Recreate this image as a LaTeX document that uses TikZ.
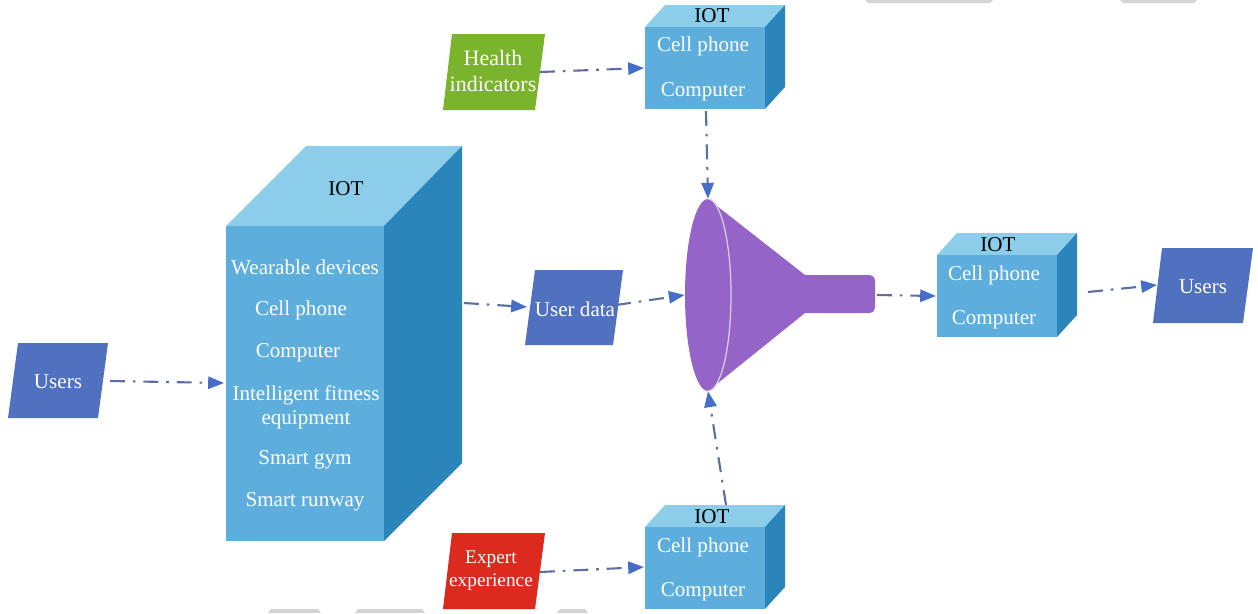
\documentclass[tikz,border=0pt]{standalone}
\usepackage{fontspec}
\setmainfont{Liberation Serif}
\usetikzlibrary{arrows.meta,shapes.geometric}

\definecolor{cubefront}{RGB}{94,174,221}
\definecolor{cubetop}{RGB}{140,206,234}
\definecolor{cubeside}{RGB}{42,134,186}
\definecolor{userblue}{RGB}{80,112,192}
\definecolor{healthgreen}{RGB}{122,180,44}
\definecolor{expertred}{RGB}{220,42,30}
\definecolor{funnelpurple}{RGB}{148,100,200}
\definecolor{funnelrim}{RGB}{222,205,245}
\definecolor{linkgray}{RGB}{95,110,160}
\definecolor{headblue}{RGB}{70,110,200}
\definecolor{scrapgray}{RGB}{212,212,212}

\tikzset{
  lbl/.style={text=white, font=\fontsize{12}{14}\selectfont, inner sep=0pt},
  toplbl/.style={text=black, font=\fontsize{12}{14}\selectfont, inner sep=0pt},
  link/.style={draw=linkgray, line width=1.2pt,
    dash pattern=on 8.5pt off 4.5pt on 1.5pt off 4.5pt,
    -{Triangle[length=9pt,width=7pt,color=headblue]}},
  % small IOT cube: front face 120x82 with its top-left corner at the pic origin
  iotcube/.pic={
    \fill[cubetop] (0,0) -- (20,-22) -- (140,-22) -- (120,0) -- cycle;
    \fill[cubeside] (120,0) -- (140,-22) -- (140,60) -- (120,82) -- cycle;
    \fill[cubefront] (0,0) rectangle (120,82);
  }
}

\begin{document}
\begin{tikzpicture}[x=0.02cm,y=-0.02cm]
  \fill[white] (0,0) rectangle (1258,613);
  \useasboundingbox (0,0) rectangle (1258,613);

  % faint grey fragments along the edges
  \fill[scrapgray] (865,0) -- (993,0) -- (990,3) -- (868,3) -- cycle;
  \fill[scrapgray] (1120,0) -- (1197,0) -- (1194,3) -- (1123,3) -- cycle;
  \fill[scrapgray] (268,613) -- (271,609) -- (318,609) -- (321,613) -- cycle;
  \fill[scrapgray] (355,613) -- (358,609) -- (422,609) -- (425,613) -- cycle;
  \fill[scrapgray] (557,613) -- (560,609) -- (585,609) -- (588,613) -- cycle;

  % large IOT block
  \fill[cubetop] (226,226) -- (306,146) -- (462,146) -- (384,226) -- cycle;
  \fill[cubeside] (384,226) -- (462,146) -- (462,463) -- (384,541) -- cycle;
  \fill[cubefront] (226,226) rectangle (384,541);
  \node[toplbl] (bigiot) at (346,189) {IOT};
  \node[lbl] (wear) at (305,267) {Wearable devices};
  \node[lbl] (bigcell) at (301,310) {Cell phone};
  \node[lbl] (bigcomp) at (298,353) {Computer};
  \node[lbl] (fit1) at (306,395) {Intelligent fitness};
  \node[lbl] (fit2) at (306,420) {equipment};
  \node[lbl] (gym) at (305,460) {Smart gym};
  \node[lbl] (runway) at (305,502) {Smart runway};
  \coordinate (bigin) at (224,383);
  \coordinate (bigout) at (464,303);

  % small IOT cubes
  \pic at (645,27) {iotcube};
  \node[toplbl] (topiot) at (712,16) {IOT};
  \node[lbl] (topcell) at (703,46) {Cell phone};
  \node[lbl] (topcomp) at (703,92) {Computer};
  \coordinate (topin) at (644,68);
  \coordinate (topout) at (706,111);

  \pic at (645,527) {iotcube};
  \node[toplbl] (botiot) at (712,517) {IOT};
  \node[lbl] (botcell) at (703,547) {Cell phone};
  \node[lbl] (botcomp) at (703,592) {Computer};
  \coordinate (botin) at (644,567);
  \coordinate (botout) at (726,505);

  \pic at (937,255) {iotcube};
  \node[toplbl] (rightiot) at (998,245) {IOT};
  \node[lbl] (rightcell) at (994,275) {Cell phone};
  \node[lbl] (rightcomp) at (994,320) {Computer};
  \coordinate (rightin) at (936,296);
  \coordinate (rightout) at (1088,292);

  % data sources and users (parallelograms)
  \fill[userblue] (18,343) -- (108,343) -- (98,418) -- (8,418) -- cycle;
  \node[lbl] (usersL) at (58,382) {Users};
  \coordinate (usersLout) at (110,381);

  \fill[userblue] (535,270) -- (623,270) -- (613,345) -- (525,345) -- cycle;
  \node[lbl] (userdata) at (575,309) {User data};
  \coordinate (udin) at (527,307);
  \coordinate (udout) at (616,305);

  \fill[healthgreen] (452,34) -- (545,34) -- (535,110) -- (443,110) -- cycle;
  \node[lbl, align=center, font=\fontsize{12.5}{14.5}\selectfont] (health) at (493,71) {Health\\indicators};
  \coordinate (healthout) at (540,72);

  \fill[expertred] (452,533) -- (545,533) -- (535,609) -- (443,609) -- cycle;
  \node[lbl, align=center, font=\fontsize{11}{13}\selectfont] (expert) at (491,571) {Expert\\experience};
  \coordinate (expertout) at (540,572);

  \fill[userblue] (1162,248) -- (1253,248) -- (1243,323) -- (1153,323) -- cycle;
  \node[lbl] (usersR) at (1203,287) {Users};
  \coordinate (usersRin) at (1157,285);

  % funnel
  \fill[funnelpurple] (708,199) -- (805,275) -- (805,313) -- (708,391) -- cycle;
  \fill[funnelpurple, rounded corners=3pt] (800,275) -- (875,275) -- (875,313) -- (800,313) -- cycle;
  \node[ellipse, fill=funnelpurple, inner sep=0pt,
        minimum width=0.92cm, minimum height=3.84cm] (mouth) at (708,295) {};
  \draw[funnelrim, line width=0.7pt] (708,199) arc[start angle=-90, end angle=90, x radius=23, y radius=96];
  \coordinate (tubeout) at (877,295);

  % connectors
  \draw[link] (usersLout) -- (bigin);
  \draw[link] (bigout) -- (udin);
  \draw[link] (udout) -- (mouth.west);
  \draw[link] (healthout) -- (topin);
  \draw[link] (topout) -- (mouth.north);
  \draw[link] (botout) -- (mouth.south);
  \draw[link] (expertout) -- (botin);
  \draw[link] (tubeout) -- (rightin);
  \draw[link] (rightout) -- (usersRin);
\end{tikzpicture}
\end{document}
